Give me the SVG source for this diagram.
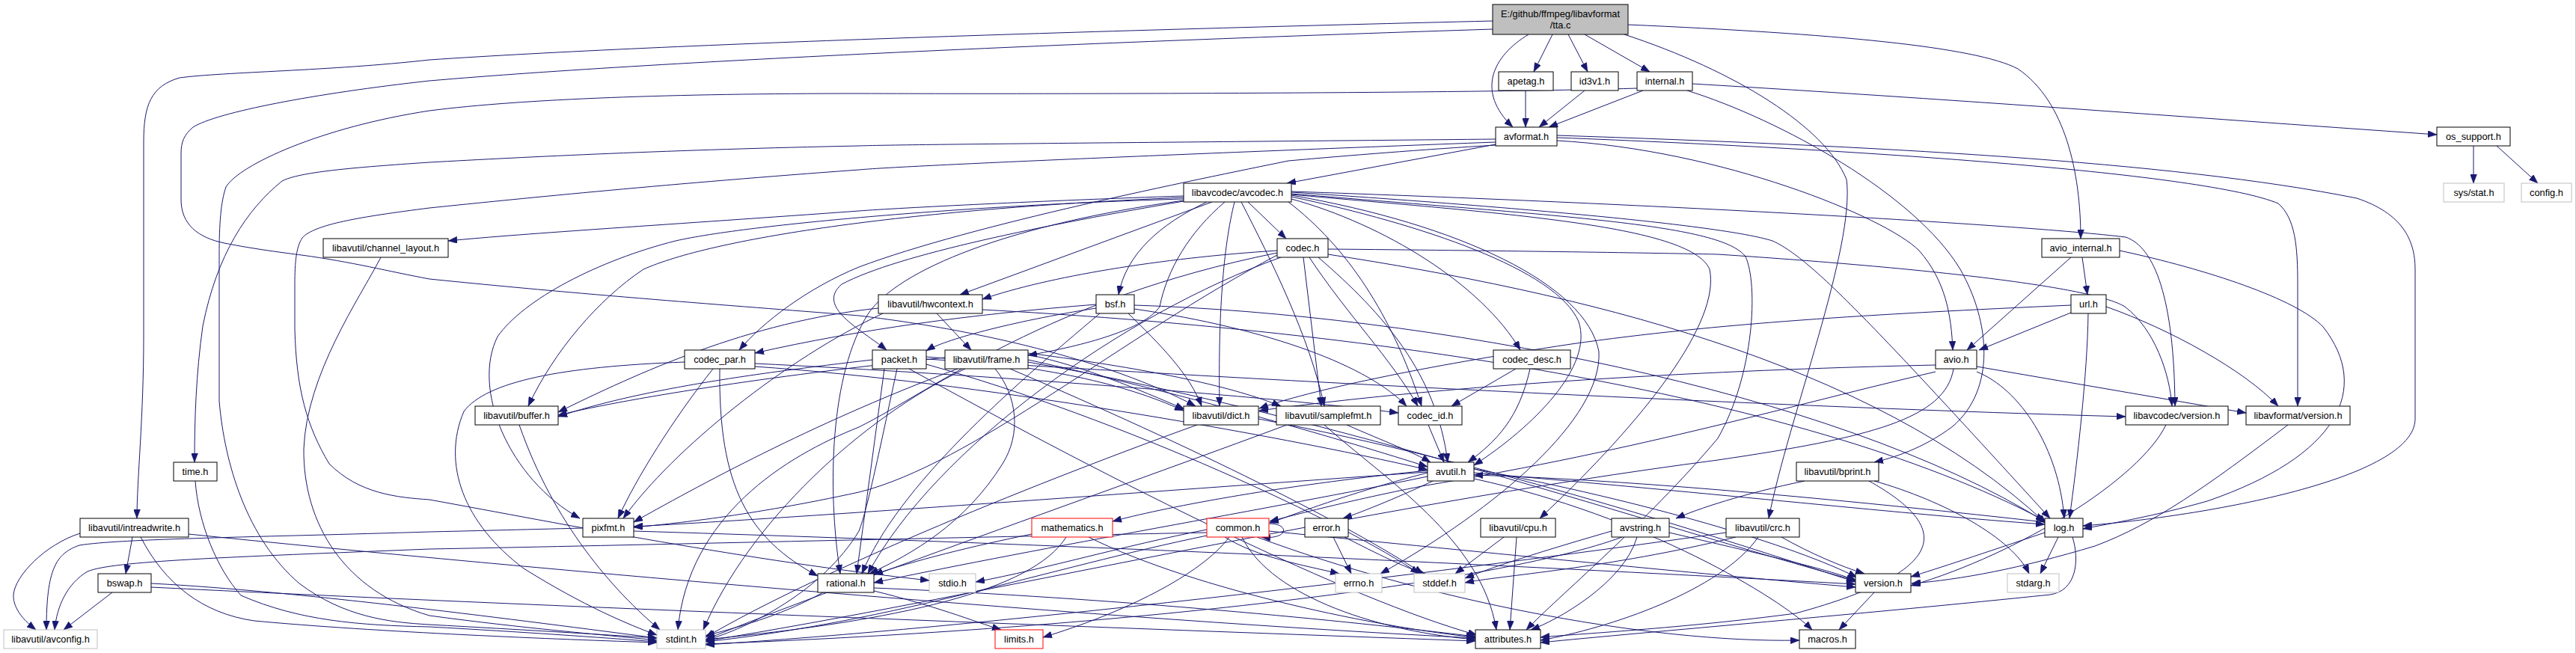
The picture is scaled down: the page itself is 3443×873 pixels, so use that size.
<svg xmlns="http://www.w3.org/2000/svg" width="3443" height="873" viewBox="0 0 3443 873">
<style>
.n rect{fill:#fff;stroke:#000;stroke-width:1}
.g rect{fill:#fff;stroke:#bfbfbf;stroke-width:1}
.r rect{fill:#fff;stroke:#ff0000;stroke-width:1}
.m rect{fill:#bfbfbf;stroke:#000;stroke-width:1}
text{font-family:"Liberation Sans",Arial,sans-serif;font-size:12.8px;fill:#000;text-anchor:middle}
#edges path{fill:none;stroke:#191970;stroke-width:1;marker-end:url(#a)}
</style>
<defs>
<marker id="a" markerWidth="12" markerHeight="9" refX="12" refY="4.5" orient="auto" markerUnits="userSpaceOnUse"><path d="M0,0 L12,4.5 L0,9 z" fill="#191970" stroke="#191970" stroke-width="0.5"/></marker>
</defs>
<rect x="0" y="0" width="3443" height="873" fill="#fff"/>
<line x1="3442.5" y1="0" x2="3442.5" y2="873" stroke="#c8c8c8" stroke-width="1"/>
<g id="edges">
<path d="M2043,46 C1995,75 1972,122 2022,170"/>
<path d="M2075,46 L2050,96"/>
<path d="M2096,46 L2122,96"/>
<path d="M2118,46 L2205,96"/>
<path d="M2176,33 C2450,45 2640,62 2697,92 C2760,135 2781,230 2781,319"/>
<path d="M2171,46 C2320,95 2440,170 2468,240 C2480,330 2390,560 2364,693"/>
<path d="M1995,28 C1500,40 900,58 574,80 C440,95 300,96 240,104 C202,115 192,140 192,190 L192,450 C192,560 183,640 183,693"/>
<path d="M1995,39 C1500,55 900,80 574,108 C420,125 290,150 258,170 C246,180 242,190 242,205 L242,267 C242,300 265,318 300,325 C340,333 380,338 403,341 C470,350 520,363 574,373 C800,396 1000,410 1148,422 C1300,440 1480,480 1598,543"/>
<path d="M2039,121 L2039,170"/>
<path d="M2118,121 L2057,170"/>
<path d="M2196,121 L2070,170"/>
<path d="M2188,118 C2000,124 1500,126 1148,125 C900,125 700,132 574,148 C430,170 320,220 302,250 C295,270 293,300 293,340 L293,536 C300,620 330,720 400,780 C460,825 520,832 574,835 C700,842 800,848 878,853"/>
<path d="M2255,121 C2380,160 2560,260 2620,360 C2660,430 2668,520 2610,570 C2570,600 2530,612 2505,618"/>
<path d="M2262,112 C2600,132 2900,155 3257,180"/>
<path d="M1999,193 L1720,245"/>
<path d="M1999,186 C1600,190 1200,193 1148,195 C900,200 700,210 574,217 C470,224 400,230 377,242 C330,280 290,340 271,436 C262,500 260,560 260,618"/>
<path d="M1999,190 C1600,205 1200,222 1148,227 C900,245 700,265 574,278 C480,290 420,300 404,318 C396,330 394,350 394,380 L394,440 C396,520 410,570 440,620 C480,660 530,665 574,668 C750,700 1000,750 1242,776"/>
<path d="M1999,194 C1900,200 1800,208 1722,215 C1600,240 1300,300 1148,357 C1080,385 1020,430 988,468"/>
<path d="M2081,188 C2300,200 2520,290 2565,335 C2600,375 2608,420 2610,468"/>
<path d="M2081,181 C2500,195 2900,215 3150,265 C3210,285 3228,320 3228,360 L3228,560 C3228,640 2950,690 2784,703"/>
<path d="M2081,184 C2500,200 2950,232 3045,272 C3068,292 3071,330 3071,380 L3071,543"/>
<path d="M3306,195 L3306,245"/>
<path d="M3337,195 L3392,245"/>
<path d="M2768,344 L2629,468"/>
<path d="M2783,344 L2790,394"/>
<path d="M2833,335 C2950,360 3070,400 3105,437 C3170,520 3125,610 2950,670 C2880,690 2820,700 2784,707"/>
<path d="M2768,418 L2645,468"/>
<path d="M2791,419 C2790,500 2776,620 2766,693"/>
<path d="M2815,410 C2900,440 3000,495 3045,543"/>
<path d="M2768,408 C2500,420 2296,432 2100,460 C1900,490 1750,522 1683,546"/>
<path d="M2587,488 C2400,492 2000,506 1683,549"/>
<path d="M2587,497 C2400,540 2200,600 1900,650 C1800,670 1740,686 1697,697"/>
<path d="M2611,493 C2600,560 2500,585 2296,615 C1800,680 1300,800 943,857"/>
<path d="M2642,497 C2700,520 2752,600 2759,693"/>
<path d="M2642,490 L3002,552"/>
<path d="M3058,568 C2950,650 2880,700 2800,730 C2700,760 2620,775 2555,780"/>
<path d="M1582,262 C1400,268 1200,278 1148,282 C900,300 700,312 599,322"/>
<path d="M1582,264 C1200,280 950,320 860,360 C800,400 740,470 706,543"/>
<path d="M1582,266 C1300,274 1000,300 903,322 C800,348 700,400 665,450 C630,520 680,640 775,693"/>
<path d="M1620,270 L1283,394"/>
<path d="M1613,270 C1550,300 1505,340 1495,394"/>
<path d="M1668,270 L1719,319"/>
<path d="M1637,270 C1590,310 1560,360 1550,410 C1530,440 1450,462 1374,475"/>
<path d="M1650,270 C1635,330 1628,420 1630,543"/>
<path d="M1659,270 C1700,350 1750,450 1770,543"/>
<path d="M1722,270 C1800,330 1860,420 1900,543"/>
<path d="M1726,266 C1850,300 1980,380 2032,468"/>
<path d="M1726,263 C1900,300 2080,360 2110,430 C2130,490 2050,570 1970,622"/>
<path d="M1726,261 C1950,300 2120,380 2137,470 C2142,560 2000,680 1845,767"/>
<path d="M1726,260 C2000,285 2260,300 2285,360 C2300,430 2200,560 2058,693"/>
<path d="M1726,259 C2100,290 2300,300 2333,343 C2350,380 2345,500 2296,586 C2200,700 2080,800 2040,842"/>
<path d="M1726,257 C2000,275 2300,300 2369,322 C2420,345 2500,430 2740,693"/>
<path d="M1726,256 C2200,272 2700,300 2841,317 C2880,330 2906,400 2907,543"/>
<path d="M1582,268 C1350,300 1200,360 1160,420 C1110,500 1105,650 1123,767"/>
<path d="M1582,269 C1400,300 1200,340 1125,380 C1090,410 1150,440 1185,468"/>
<path d="M1707,335 C1550,345 1400,370 1313,400"/>
<path d="M1707,338 C1400,400 1250,520 1148,571 C1050,610 920,690 906,842"/>
<path d="M1742,344 L1766,543"/>
<path d="M1750,344 C1800,420 1860,480 1895,543"/>
<path d="M1762,344 C1850,420 1920,500 1935,618"/>
<path d="M1775,340 C2100,390 2500,480 2735,700"/>
<path d="M1707,341 C1500,450 1300,620 1148,658 C1000,690 900,700 847,705"/>
<path d="M1712,344 C1500,420 1250,600 1160,767"/>
<path d="M1775,333 C2000,335 2200,338 2296,340 C2600,360 2800,385 2840,410 C2880,440 2900,500 2903,543"/>
<path d="M1465,407 C1300,420 1150,440 1009,472"/>
<path d="M1465,412 C1350,430 1260,455 1238,469"/>
<path d="M1470,419 C1350,520 1200,650 1152,767"/>
<path d="M1516,413 C1700,440 1830,490 1880,543"/>
<path d="M1508,419 C1550,460 1590,500 1606,543"/>
<path d="M1516,408 C1900,420 2450,520 2734,698"/>
<path d="M2026,493 L1940,543"/>
<path d="M2045,493 C2030,560 2000,590 1962,618"/>
<path d="M1909,568 L1930,618"/>
<path d="M915,484 C750,490 650,510 620,550 C590,620 620,700 700,760 C780,810 840,835 878,849"/>
<path d="M953,493 C900,560 850,640 826,693"/>
<path d="M962,493 C960,650 1000,720 1093,770"/>
<path d="M1009,490 C1300,510 1700,580 1908,628"/>
<path d="M1009,486 C1300,500 1700,530 1869,552"/>
<path d="M1199,493 C1180,580 1160,680 1148,710 C1100,790 1000,840 943,856"/>
<path d="M1215,493 C1500,650 1800,800 1974,849"/>
<path d="M1238,487 C1500,560 1800,700 1897,767"/>
<path d="M1166,481 C1000,500 850,522 746,557"/>
<path d="M1238,477 C1400,490 1500,512 1582,549"/>
<path d="M1182,493 L1145,767"/>
<path d="M1238,480 C1700,510 2400,545 2841,557"/>
<path d="M509,344 C480,400 410,500 406,600 C405,700 460,790 574,823 C700,840 800,848 878,856"/>
<path d="M1174,412 C1000,430 850,500 746,551"/>
<path d="M1252,419 L1298,468"/>
<path d="M1313,414 C1800,440 2400,520 2733,696"/>
<path d="M1180,419 C1050,480 900,600 833,693"/>
<path d="M1263,478 C1050,500 850,530 746,555"/>
<path d="M1290,493 C1150,560 1000,700 940,842"/>
<path d="M1280,493 C1100,560 950,640 847,698"/>
<path d="M1374,481 C1600,530 1800,590 1908,624"/>
<path d="M1374,474 C1450,490 1520,520 1583,547"/>
<path d="M1374,472 C1550,495 1650,518 1712,543"/>
<path d="M1350,493 C1600,600 1800,700 1902,767"/>
<path d="M1374,484 C1800,560 2200,700 2480,776"/>
<path d="M1330,493 C1360,530 1365,580 1340,620 C1290,700 1220,740 1162,767"/>
<path d="M694,568 C740,700 820,790 882,842"/>
<path d="M1600,568 C1400,640 1100,760 943,852"/>
<path d="M1682,560 C2000,620 2300,720 2480,778"/>
<path d="M1720,568 C1500,650 1100,790 943,855"/>
<path d="M1800,568 C1850,590 1890,605 1912,618"/>
<path d="M1770,568 C1850,640 1980,720 2000,842"/>
<path d="M2895,568 C2860,640 2700,740 2554,783"/>
<path d="M261,643 C265,700 290,760 322,796 C400,830 480,836 574,838 C700,845 800,852 878,858"/>
<path d="M1908,632 C1800,660 1730,688 1697,699"/>
<path d="M1915,643 C1880,660 1820,685 1795,693"/>
<path d="M1908,637 C1700,680 1400,730 1168,779"/>
<path d="M1970,627 C2200,670 2400,730 2482,772"/>
<path d="M1970,640 C2200,690 2380,800 2422,842"/>
<path d="M1908,629 C1700,650 1550,680 1487,697"/>
<path d="M1970,632 C2300,660 2550,688 2733,701"/>
<path d="M1908,631 C1500,660 1100,690 847,704"/>
<path d="M2412,643 C2330,660 2270,680 2240,693"/>
<path d="M2505,643 C2600,670 2690,720 2712,767"/>
<path d="M2498,643 C2600,700 2620,760 2400,820 C2250,840 2100,848 2059,852"/>
<path d="M107,713 C60,728 20,770 18,795 C17,815 35,832 48,842"/>
<path d="M177,718 L168,767"/>
<path d="M188,718 C220,780 270,820 340,830 C500,845 750,855 878,859"/>
<path d="M252,714 C700,760 1500,830 1972,853"/>
<path d="M779,706 C700,708 620,710 574,711 C350,718 160,720 106,729 C75,740 62,760 62,842"/>
<path d="M847,710 C1500,730 2100,760 2480,781"/>
<path d="M1425,718 C1380,790 1200,830 943,855"/>
<path d="M1455,718 C1600,790 1850,840 1972,852"/>
<path d="M1379,714 C1300,730 1220,750 1168,768"/>
<path d="M1696,700 C1725,700 1722,722 1686,718"/>
<path d="M1637,718 C1680,745 1740,755 1790,767"/>
<path d="M1643,718 C1605,769 1500,820 1394,852"/>
<path d="M1613,716 C1400,760 1200,830 943,858"/>
<path d="M1613,708 C1500,730 1400,760 1304,778"/>
<path d="M1660,718 C1700,800 1850,845 1972,855"/>
<path d="M1680,718 C1900,800 2200,860 2405,856"/>
<path d="M1696,710 C2000,740 2300,770 2480,785"/>
<path d="M1613,712 C1200,720 800,730 574,734 C300,745 150,750 117,764 C90,780 76,810 73,842"/>
<path d="M1782,718 L1806,767"/>
<path d="M1797,718 C1840,740 1880,760 1905,767"/>
<path d="M2010,718 L1945,767"/>
<path d="M2027,718 L2018,842"/>
<path d="M2154,710 C2050,740 1990,760 1958,773"/>
<path d="M2168,718 C2000,780 1500,840 943,861"/>
<path d="M2188,718 C2170,780 2080,830 2046,842"/>
<path d="M2231,712 C2350,740 2440,760 2481,776"/>
<path d="M2307,712 C1900,770 1300,840 943,862"/>
<path d="M2320,718 C2150,760 2000,770 1958,779"/>
<path d="M2350,718 C2300,790 2150,840 2059,856"/>
<path d="M2381,718 C2420,740 2460,757 2492,767"/>
<path d="M2751,718 L2727,767"/>
<path d="M2733,698 C2500,672 2200,642 1970,635"/>
<path d="M2770,718 C2780,750 2775,790 2740,795 C2500,820 2200,845 2059,859"/>
<path d="M2733,712 C2650,740 2590,760 2554,771"/>
<path d="M150,792 L85,842"/>
<path d="M202,780 C400,790 700,830 878,853"/>
<path d="M202,785 C700,810 1500,840 1972,857"/>
<path d="M1100,792 C1050,820 1000,835 943,850"/>
<path d="M1168,790 C1250,810 1300,830 1338,842"/>
<path d="M1168,786 C1500,800 1800,830 1972,851"/>
<path d="M2505,792 L2458,842"/>
</g>
<g id="tta" class="m"><rect x="1995" y="6" width="181" height="40"/><text x="2085.5" y="23">E:/github/ffmpeg/libavformat</text><text x="2085.5" y="38">/tta.c</text></g>
<g id="apetag" class="n"><rect x="2003" y="96" width="73" height="25"/><text x="2039.5" y="113">apetag.h</text></g>
<g id="id3v1" class="n"><rect x="2100" y="96" width="63" height="25"/><text x="2131.5" y="113">id3v1.h</text></g>
<g id="internal" class="n"><rect x="2188" y="96" width="74" height="25"/><text x="2225" y="113">internal.h</text></g>
<g id="avformat" class="n"><rect x="1999" y="170" width="82" height="25"/><text x="2040" y="187">avformat.h</text></g>
<g id="os_support" class="n"><rect x="3257" y="170" width="98" height="25"/><text x="3306" y="187">os_support.h</text></g>
<g id="sys_stat" class="g"><rect x="3266" y="245" width="81" height="25"/><text x="3306.5" y="262">sys/stat.h</text></g>
<g id="config" class="g"><rect x="3370" y="245" width="67" height="25"/><text x="3403.5" y="262">config.h</text></g>
<g id="avcodec" class="n"><rect x="1582" y="245" width="144" height="25"/><text x="1654" y="262">libavcodec/avcodec.h</text></g>
<g id="channel_layout" class="n"><rect x="432" y="319" width="167" height="25"/><text x="515.5" y="336">libavutil/channel_layout.h</text></g>
<g id="codec" class="n"><rect x="1707" y="319" width="68" height="25"/><text x="1741" y="336">codec.h</text></g>
<g id="avio_internal" class="n"><rect x="2729" y="319" width="104" height="25"/><text x="2781" y="336">avio_internal.h</text></g>
<g id="url" class="n"><rect x="2768" y="394" width="47" height="25"/><text x="2791.5" y="411">url.h</text></g>
<g id="hwcontext" class="n"><rect x="1174" y="394" width="139" height="25"/><text x="1243.5" y="411">libavutil/hwcontext.h</text></g>
<g id="bsf" class="n"><rect x="1465" y="394" width="51" height="25"/><text x="1490.5" y="411">bsf.h</text></g>
<g id="codec_par" class="n"><rect x="915" y="468" width="94" height="25"/><text x="962" y="485">codec_par.h</text></g>
<g id="packet" class="n"><rect x="1166" y="468" width="72" height="25"/><text x="1202" y="485">packet.h</text></g>
<g id="frame" class="n"><rect x="1263" y="468" width="111" height="25"/><text x="1318.5" y="485">libavutil/frame.h</text></g>
<g id="codec_desc" class="n"><rect x="1996" y="468" width="103" height="25"/><text x="2047.5" y="485">codec_desc.h</text></g>
<g id="avio" class="n"><rect x="2587" y="468" width="55" height="25"/><text x="2614.5" y="485">avio.h</text></g>
<g id="buffer" class="n"><rect x="635" y="543" width="111" height="25"/><text x="690.5" y="560">libavutil/buffer.h</text></g>
<g id="dict" class="n"><rect x="1582" y="543" width="100" height="25"/><text x="1632" y="560">libavutil/dict.h</text></g>
<g id="samplefmt" class="n"><rect x="1706" y="543" width="139" height="25"/><text x="1775.5" y="560">libavutil/samplefmt.h</text></g>
<g id="codec_id" class="n"><rect x="1869" y="543" width="85" height="25"/><text x="1911.5" y="560">codec_id.h</text></g>
<g id="lavc_version" class="n"><rect x="2841" y="543" width="137" height="25"/><text x="2909.5" y="560">libavcodec/version.h</text></g>
<g id="lavf_version" class="n"><rect x="3002" y="543" width="139" height="25"/><text x="3071.5" y="560">libavformat/version.h</text></g>
<g id="time" class="n"><rect x="232" y="618" width="58" height="25"/><text x="261" y="635">time.h</text></g>
<g id="avutil" class="n"><rect x="1908" y="618" width="62" height="25"/><text x="1939" y="635">avutil.h</text></g>
<g id="bprint" class="n"><rect x="2401" y="618" width="110" height="25"/><text x="2456" y="635">libavutil/bprint.h</text></g>
<g id="intreadwrite" class="n"><rect x="107" y="693" width="145" height="25"/><text x="179.5" y="710">libavutil/intreadwrite.h</text></g>
<g id="pixfmt" class="n"><rect x="779" y="693" width="68" height="25"/><text x="813" y="710">pixfmt.h</text></g>
<g id="mathematics" class="r"><rect x="1379" y="693" width="108" height="25"/><text x="1433" y="710">mathematics.h</text></g>
<g id="common" class="r"><rect x="1613" y="693" width="83" height="25"/><text x="1654.5" y="710">common.h</text></g>
<g id="error" class="n"><rect x="1744" y="693" width="58" height="25"/><text x="1773" y="710">error.h</text></g>
<g id="cpu" class="n"><rect x="1979" y="693" width="100" height="25"/><text x="2029" y="710">libavutil/cpu.h</text></g>
<g id="avstring" class="n"><rect x="2154" y="693" width="77" height="25"/><text x="2192.5" y="710">avstring.h</text></g>
<g id="crc" class="n"><rect x="2307" y="693" width="98" height="25"/><text x="2356" y="710">libavutil/crc.h</text></g>
<g id="log" class="n"><rect x="2733" y="693" width="51" height="25"/><text x="2758.5" y="710">log.h</text></g>
<g id="bswap" class="n"><rect x="131" y="767" width="71" height="25"/><text x="166.5" y="784">bswap.h</text></g>
<g id="rational" class="n"><rect x="1093" y="767" width="75" height="25"/><text x="1130.5" y="784">rational.h</text></g>
<g id="stdio" class="g"><rect x="1242" y="767" width="62" height="25"/><text x="1273" y="784">stdio.h</text></g>
<g id="errno" class="g"><rect x="1785" y="767" width="62" height="25"/><text x="1816" y="784">errno.h</text></g>
<g id="stddef" class="g"><rect x="1890" y="767" width="68" height="25"/><text x="1924" y="784">stddef.h</text></g>
<g id="version" class="n"><rect x="2480" y="767" width="74" height="25"/><text x="2517" y="784">version.h</text></g>
<g id="stdarg" class="g"><rect x="2683" y="767" width="69" height="25"/><text x="2717.5" y="784">stdarg.h</text></g>
<g id="avconfig" class="g"><rect x="5" y="842" width="125" height="25"/><text x="67.5" y="859">libavutil/avconfig.h</text></g>
<g id="stdint" class="g"><rect x="878" y="842" width="65" height="25"/><text x="910.5" y="859">stdint.h</text></g>
<g id="limits" class="r"><rect x="1330" y="842" width="64" height="25"/><text x="1362" y="859">limits.h</text></g>
<g id="attributes" class="n"><rect x="1972" y="842" width="87" height="25"/><text x="2015.5" y="859">attributes.h</text></g>
<g id="macros" class="n"><rect x="2405" y="842" width="75" height="25"/><text x="2442.5" y="859">macros.h</text></g>
</svg>
